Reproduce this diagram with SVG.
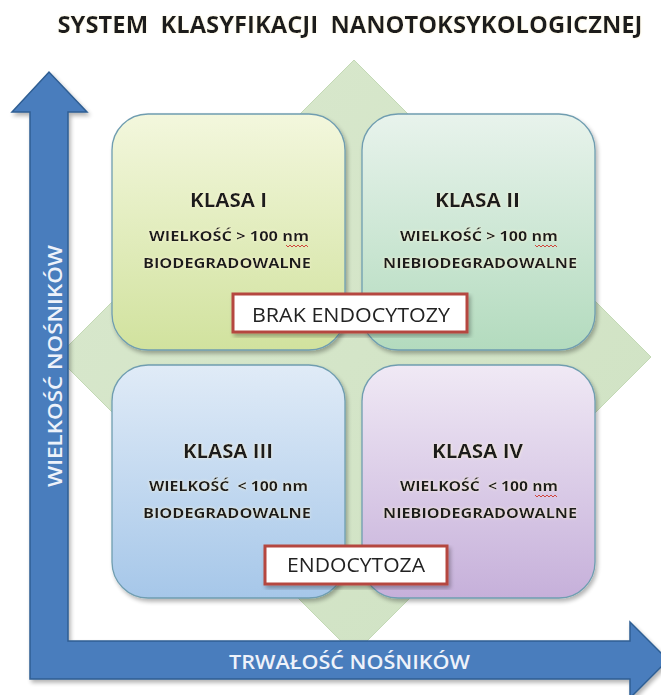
<svg xmlns="http://www.w3.org/2000/svg" width="661" height="695" viewBox="0 0 661 695">
<defs>
<linearGradient id="gI" x1="0" y1="0" x2="0" y2="1"><stop offset="0" stop-color="#f3f7dd"/><stop offset="1" stop-color="#d1e29e"/></linearGradient>
<linearGradient id="gII" x1="0" y1="0" x2="0" y2="1"><stop offset="0" stop-color="#e8f3ec"/><stop offset="1" stop-color="#b3dbbe"/></linearGradient>
<linearGradient id="gIII" x1="0" y1="0" x2="0" y2="1"><stop offset="0" stop-color="#e0ebf7"/><stop offset="1" stop-color="#a6c7e9"/></linearGradient>
<linearGradient id="gIV" x1="0" y1="0" x2="0" y2="1"><stop offset="0" stop-color="#f0e9f5"/><stop offset="1" stop-color="#c6b0da"/></linearGradient>
<linearGradient id="gD" x1="0" y1="0" x2="1" y2="1"><stop offset="0" stop-color="#d9e8cd"/><stop offset="1" stop-color="#cfe2c3"/></linearGradient>
<filter id="sh" x="-10%" y="-10%" width="125%" height="125%"><feGaussianBlur in="SourceAlpha" stdDeviation="2"/><feOffset dx="2" dy="3"/><feComponentTransfer><feFuncA type="linear" slope="0.3"/></feComponentTransfer><feMerge><feMergeNode/><feMergeNode in="SourceGraphic"/></feMerge></filter>
<filter id="glow" x="-10%" y="-30%" width="120%" height="160%"><feGaussianBlur in="SourceAlpha" stdDeviation="1.6" result="b"/><feFlood flood-color="#fff6d8" flood-opacity="0.9"/><feComposite operator="in" in2="b"/><feMerge><feMergeNode/><feMergeNode in="SourceGraphic"/></feMerge></filter>
</defs>
<style>
.box{stroke:#6f9db0;stroke-width:1.3}
.t1{font-family:"Open Sans","Noto Sans",sans-serif;font-weight:bold;font-size:19px;fill:#1c1c1c;text-anchor:middle}
.t2{font-family:"Open Sans","Noto Sans",sans-serif;font-weight:bold;font-size:14.5px;fill:#1c1c1c;text-anchor:middle}
.lbl{fill:#ffffff;stroke:#b5473f;stroke-width:3}
.lt{font-family:"Open Sans","Noto Sans",sans-serif;font-size:20px;fill:#222;text-anchor:middle}
.ax{font-family:"Open Sans","Noto Sans",sans-serif;font-size:20px;fill:#eef2fa;text-anchor:middle;font-weight:600}
.sq{fill:none;stroke:#d0443a;stroke-width:1}
</style>
<rect width="661" height="695" fill="#ffffff"/>
<g id="title">
<text x="350" y="33" style="white-space:pre" font-family="'Open Sans','Noto Sans',sans-serif" font-weight="bold" font-size="23" fill="#1a1a1a" text-anchor="middle" textLength="585" lengthAdjust="spacingAndGlyphs" filter="url(#glow)">SYSTEM  KLASYFIKACJI  NANOTOKSYKOLOGICZNEJ</text>
</g>
<g id="diamond">
<polygon points="354,60 651,357 354,654 57,357" fill="url(#gD)" stroke="#c3d9b5" stroke-width="1"/>
</g>
<g id="klasa1" filter="url(#sh)">
<rect class="box" x="112" y="114" width="233" height="236" rx="36" fill="url(#gI)"/>
<g filter="url(#glow)">
<text class="t1" x="228.5" y="207" textLength="77" lengthAdjust="spacingAndGlyphs">KLASA I</text>
<text class="t2" x="229" y="241" textLength="160" lengthAdjust="spacingAndGlyphs">WIELKOŚĆ &gt; 100 nm</text>
<text class="t2" x="227" y="268" textLength="168" lengthAdjust="spacingAndGlyphs">BIODEGRADOWALNE</text>
</g>
<path class="sq" d="M286,245 l2,2 l2,-2 l2,2 l2,-2 l2,2 l2,-2 l2,2 l2,-2 l2,2 l2,-2 l2,2"/>
</g>
<g id="klasa2" filter="url(#sh)">
<rect class="box" x="362" y="114" width="233" height="236" rx="36" fill="url(#gII)"/>
<g filter="url(#glow)">
<text class="t1" x="477.5" y="207" textLength="85" lengthAdjust="spacingAndGlyphs">KLASA II</text>
<text class="t2" x="479" y="241" textLength="158" lengthAdjust="spacingAndGlyphs">WIELKOŚĆ &gt; 100 nm</text>
<text class="t2" x="480" y="268" textLength="194" lengthAdjust="spacingAndGlyphs">NIEBIODEGRADOWALNE</text>
</g>
<path class="sq" d="M535,245 l2,2 l2,-2 l2,2 l2,-2 l2,2 l2,-2 l2,2 l2,-2 l2,2 l2,-2 l2,2"/>
</g>
<g id="klasa3" filter="url(#sh)">
<rect class="box" x="112" y="365" width="233" height="233" rx="36" fill="url(#gIII)"/>
<g filter="url(#glow)">
<text class="t1" x="228" y="458" textLength="90" lengthAdjust="spacingAndGlyphs">KLASA III</text>
<text class="t2" x="228.5" y="491" textLength="159" lengthAdjust="spacingAndGlyphs" style="white-space:pre">WIELKOŚĆ  &lt; 100 nm</text>
<text class="t2" x="227" y="518" textLength="168" lengthAdjust="spacingAndGlyphs">BIODEGRADOWALNE</text>
</g>
</g>
<g id="klasa4" filter="url(#sh)">
<rect class="box" x="362" y="365" width="233" height="233" rx="36" fill="url(#gIV)"/>
<g filter="url(#glow)">
<text class="t1" x="477.5" y="458" textLength="91" lengthAdjust="spacingAndGlyphs">KLASA IV</text>
<text class="t2" x="479" y="491" textLength="158" lengthAdjust="spacingAndGlyphs" style="white-space:pre">WIELKOŚĆ  &lt; 100 nm</text>
<text class="t2" x="480" y="518" textLength="194" lengthAdjust="spacingAndGlyphs">NIEBIODEGRADOWALNE</text>
</g>
<path class="sq" d="M535,495 l2,2 l2,-2 l2,2 l2,-2 l2,2 l2,-2 l2,2 l2,-2 l2,2 l2,-2 l2,2"/>
</g>
<g id="brak-endocytozy" filter="url(#sh)">
<rect class="lbl" x="233" y="294" width="234" height="38"/>
<text class="lt" x="351" y="322" textLength="198" lengthAdjust="spacingAndGlyphs">BRAK ENDOCYTOZY</text>
</g>
<g id="endocytoza" filter="url(#sh)">
<rect class="lbl" x="265" y="546" width="182" height="38"/>
<text class="lt" x="356" y="572" textLength="138" lengthAdjust="spacingAndGlyphs">ENDOCYTOZA</text>
</g>
<g id="connectors">
<path d="M30,679 L30,112 L12,112 L49,72 L87,112 L68,112 L68,641 L630,641 L630,622 L668,660 L630,698 L630,679 Z" fill="#4a7dbd" stroke="#2f5e93" stroke-width="1.5" stroke-linejoin="miter" filter="url(#sh)"/>
<text class="ax" x="349.5" y="669" textLength="241" lengthAdjust="spacingAndGlyphs">TRWAŁOŚĆ NOŚNIKÓW</text>
<text class="ax" transform="translate(62,366) rotate(-90)" x="0" y="0" textLength="242" lengthAdjust="spacingAndGlyphs">WIELKOŚĆ NOŚNIKÓW</text>
</g>
</svg>
